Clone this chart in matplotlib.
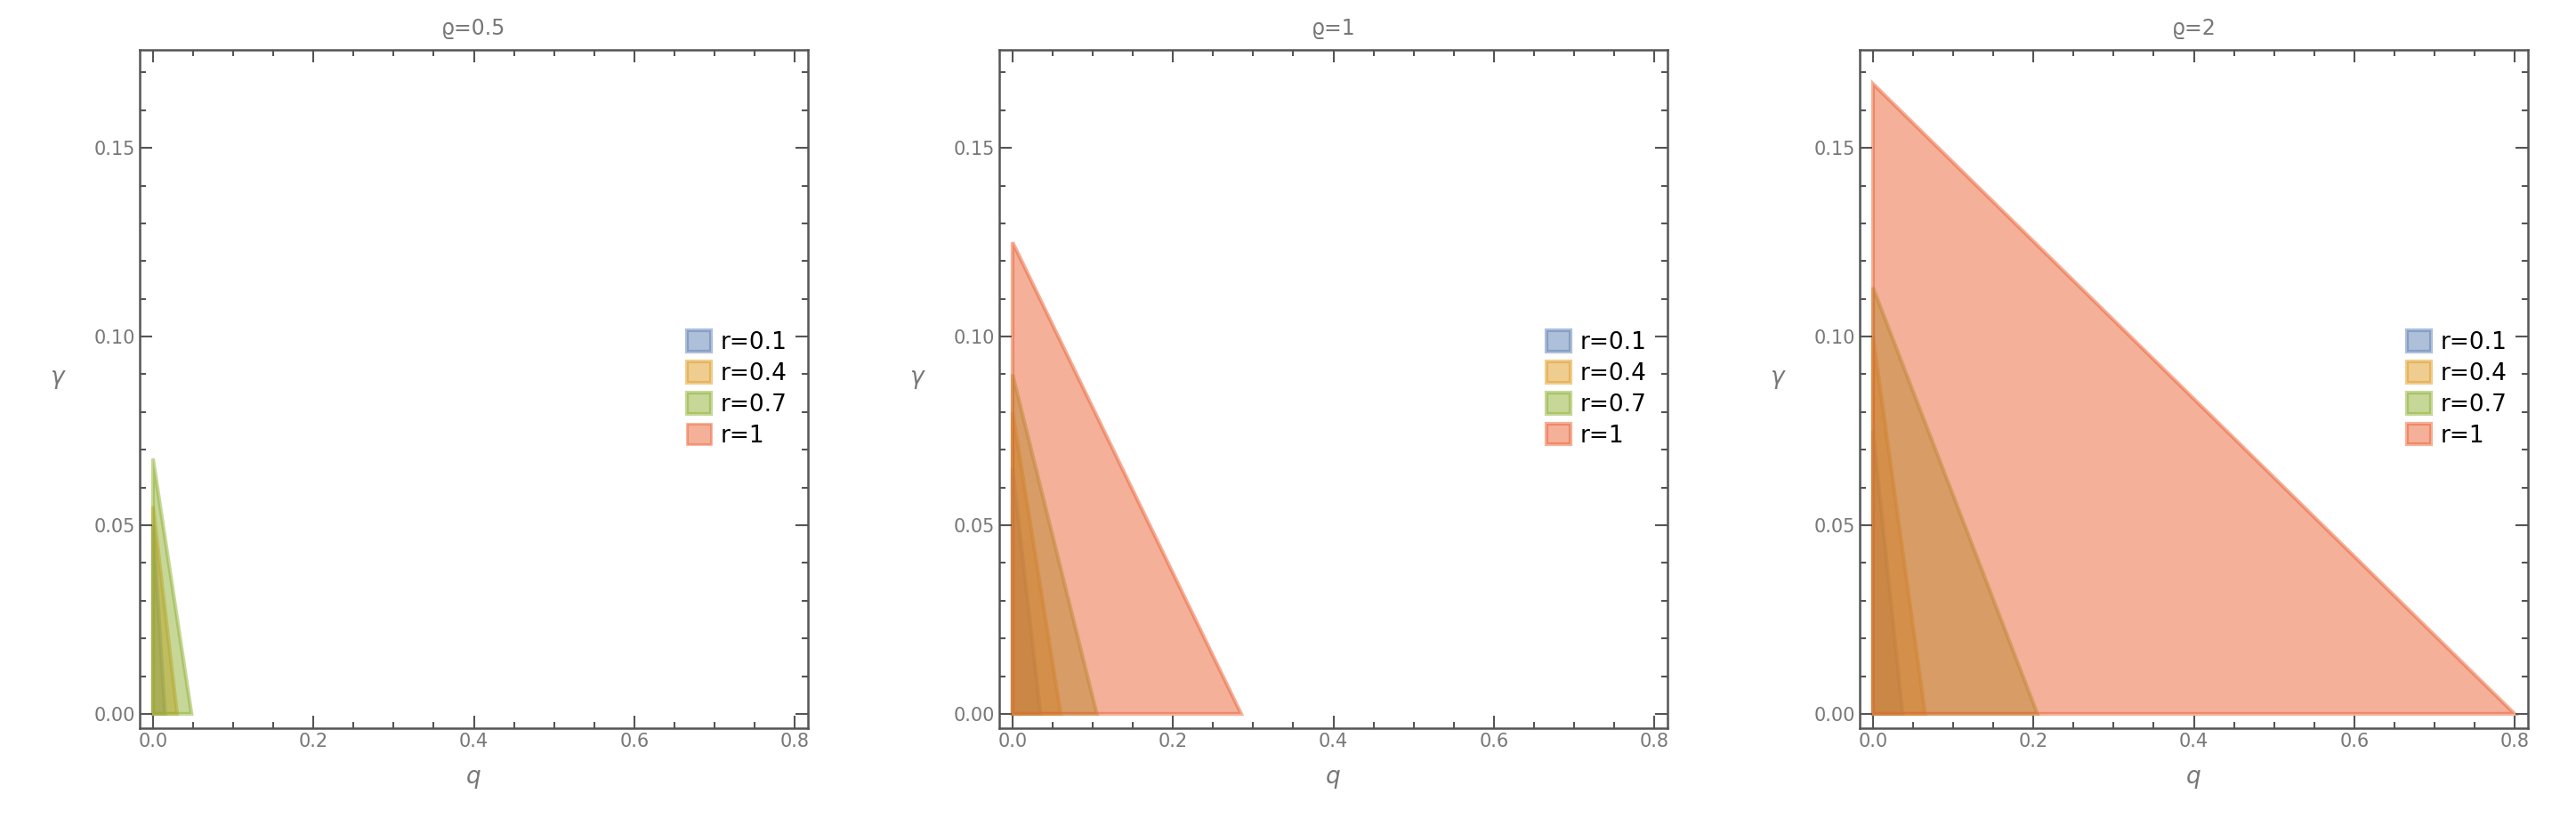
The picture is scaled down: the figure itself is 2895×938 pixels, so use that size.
import matplotlib.pyplot as plt

# triangle corners: q intercept and gamma intercept per (rho, r)
rhos = ["0.5", "1", "2"]
r_labels = ["r=0.1", "r=0.4", "r=0.7", "r=1"]
colors = ["#5E81B5", "#E19C24", "#8FB032", "#EB6235"]
q_max = [
    [0.015, 0.03, 0.048, None],
    [0.035, 0.06, 0.105, 0.285],
    [0.037, 0.065, 0.205, 0.80],
]
g_max = [
    [0.050, 0.055, 0.0677, None],
    [0.065, 0.080, 0.090, 0.125],
    [0.075, 0.100, 0.113, 0.167],
]

fig = plt.figure(figsize=(28.95, 9.38), dpi=100)
W, H = 2895, 938
lefts = [157, 1123, 2090]
gray = "#555555"

for i, rho in enumerate(rhos):
    ax = fig.add_axes([lefts[i] / W, (H - 818) / H, 751 / W, 762 / H])
    for j in range(4):
        if q_max[i][j] is None:
            ax.fill([], [], facecolor=colors[j], alpha=0.5, edgecolor=colors[j], lw=2, label=r_labels[j])
            continue
        xs = [0, q_max[i][j], 0]
        ys = [0, 0, g_max[i][j]]
        ax.fill(xs, ys, facecolor=colors[j], alpha=0.5, edgecolor=colors[j], lw=3, label=r_labels[j])
    ax.set_xlim(-0.0166, 0.8166)
    ax.set_ylim(-0.0038, 0.176)
    ax.set_xticks([0, 0.2, 0.4, 0.6, 0.8])
    ax.set_xticklabels(["0.0", "0.2", "0.4", "0.6", "0.8"])
    ax.set_yticks([0, 0.05, 0.10, 0.15])
    ax.set_yticklabels(["0.00", "0.05", "0.10", "0.15"])
    ax.set_xticks([k * 0.05 for k in range(17)], minor=True)
    ax.set_yticks([k * 0.01 for k in range(18)], minor=True)
    ax.tick_params(which="both", direction="in", top=True, right=True, colors=gray,
                   labelcolor="#777777", labelsize=15, width=1.5)
    ax.tick_params(which="major", length=10)
    ax.tick_params(which="minor", length=5)
    for s in ax.spines.values():
        s.set_color(gray)
        s.set_linewidth(1.8)
    ax.set_xlabel("q", fontsize=19, color="#777777", style="italic", labelpad=12)
    ax.set_ylabel("γ", fontsize=19, color="#777777", style="italic", rotation=0, labelpad=30)
    ax.set_title("ϱ=" + rho, fontsize=17, color="#777777", pad=12)
    leg = ax.legend(loc="center right", bbox_to_anchor=(1.0, 0.5), frameon=False, fontsize=19,
                    handlelength=1.0, handleheight=1.0, handletextpad=0.4, labelspacing=0.3)

fig.savefig("out.png", dpi=100)
